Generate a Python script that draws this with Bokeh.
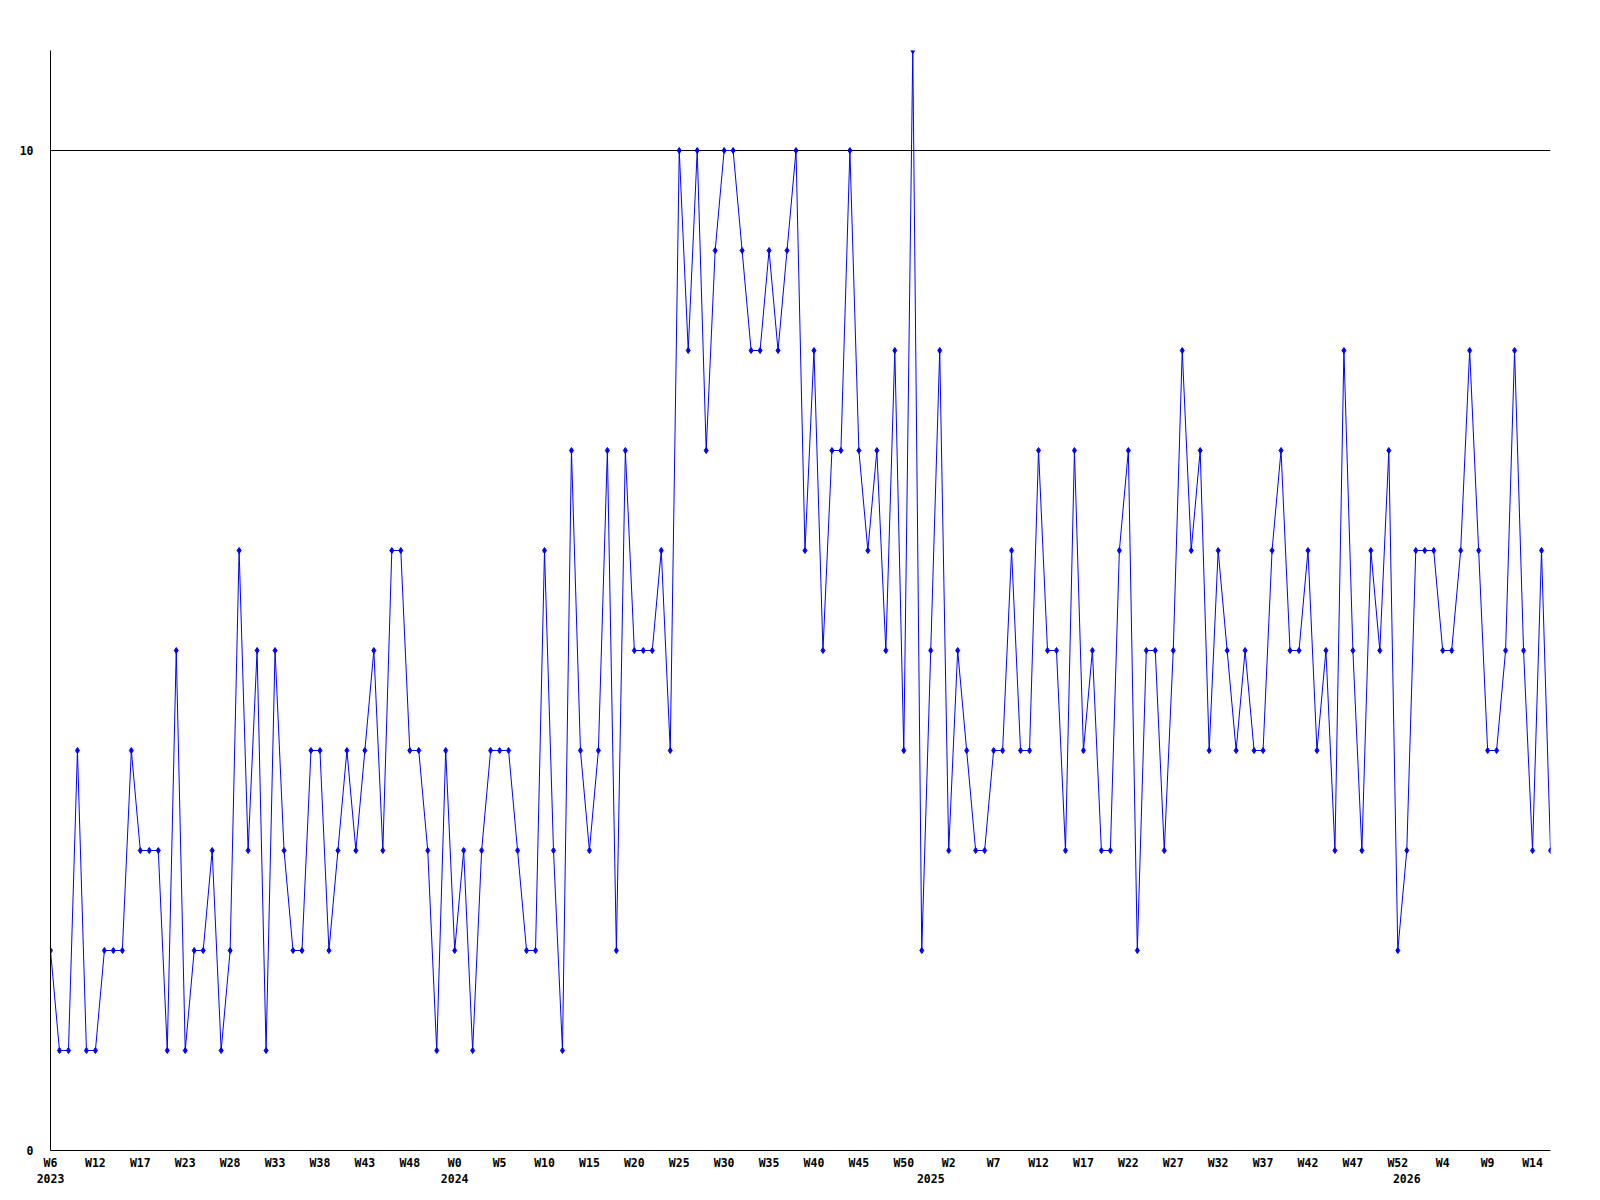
from bokeh.plotting import figure
from bokeh.models import Range1d, FixedTicker, LinearAxis, Grid
from bokeh.embed import file_html
from bokeh.resources import INLINE

# weekly values, one per point
values = [
    2, 1, 1, 4, 1, 1, 2, 2, 2, 4,
    3, 3, 3, 1, 5, 1, 2, 2, 3, 1,
    2, 6, 3, 5, 1, 5, 3, 2, 2, 4,
    4, 2, 3, 4, 3, 4, 5, 3, 6, 6,
    4, 4, 3, 1, 4, 2, 3, 1, 3, 4,
    4, 4, 3, 2, 2, 6, 3, 1, 7, 4,
    3, 4, 7, 2, 7, 5, 5, 5, 6, 4,
    10, 8, 10, 7, 9, 10, 10, 9, 8, 8,
    9, 8, 9, 10, 6, 8, 5, 7, 7, 10,
    7, 6, 7, 5, 8, 4, 11, 2, 5, 8,
    3, 5, 4, 3, 3, 4, 4, 6, 4, 4,
    7, 5, 5, 3, 7, 4, 5, 3, 3, 6,
    7, 2, 5, 5, 3, 5, 8, 6, 7, 4,
    6, 5, 4, 5, 4, 4, 6, 7, 5, 5,
    6, 4, 5, 3, 8, 5, 3, 6, 5, 7,
    2, 3, 6, 6, 6, 5, 5, 6, 8, 6,
    4, 4, 5, 8, 5, 3, 6, 3,
]

# week labels, shown on every 5th point
week_labels = [
    "W6", "W12", "W17", "W23", "W28", "W33", "W38", "W43", "W48",
    "W0", "W5", "W10", "W15", "W20", "W25", "W30", "W35", "W40", "W45", "W50",
    "W2", "W7", "W12", "W17", "W22", "W27", "W32", "W37", "W42", "W47", "W52",
    "W4", "W9", "W14",
]
label_step = 5

# year labels and the index of the first point of each year
year_labels = ["2023", "2024", "2025", "2026"]
year_first_point = [0, 45, 98, 151]

y_tick_values = [0, 10]
y_max = 11

x = list(range(len(values)))
week_ticks = [i * label_step for i in range(len(week_labels))]

FONT = "DejaVu Sans Mono"
FSIZE = "11.5px"
BLUE = "#0000ff"

p = figure(
    frame_width=1500, frame_height=1100,
    output_backend="svg", toolbar_location=None,
    x_range=Range1d(0, len(values) - 1), y_range=Range1d(0, y_max),
    x_axis_type=None, y_axis_type=None,
    min_border_left=50, min_border_top=50, min_border_right=34, min_border_bottom=10,
)
p.outline_line_color = None
p.background_fill_color = "white"
p.border_fill_color = "white"

def style_axis(ax, standoff):
    ax.axis_line_color = "black"
    ax.axis_line_width = 1
    ax.major_tick_line_color = None
    ax.minor_tick_line_color = None
    ax.major_tick_out = 0
    ax.major_tick_in = 0
    ax.minor_tick_out = 0
    ax.major_label_standoff = standoff
    ax.major_label_text_font = FONT
    ax.major_label_text_font_style = "bold"
    ax.major_label_text_font_size = FSIZE
    ax.major_label_text_color = "black"

yaxis = LinearAxis(ticker=FixedTicker(ticks=y_tick_values))
style_axis(yaxis, 17)
yaxis.major_label_overrides = {v: str(v) for v in y_tick_values}
p.add_layout(yaxis, "left")

xaxis = LinearAxis(ticker=FixedTicker(ticks=week_ticks))
style_axis(xaxis, 5)
xaxis.major_label_overrides = {t: lab for t, lab in zip(week_ticks, week_labels)}
p.add_layout(xaxis, "below")

yearaxis = LinearAxis(ticker=FixedTicker(ticks=year_first_point))
style_axis(yearaxis, 1)
yearaxis.axis_line_color = None
yearaxis.major_label_overrides = {t: lab for t, lab in zip(year_first_point, year_labels)}
p.add_layout(yearaxis, "below")

p.add_layout(Grid(dimension=1, ticker=FixedTicker(ticks=[v for v in y_tick_values if v > 0]),
                  grid_line_color="black", grid_line_width=1))

p.line(x=x, y=values, line_color=BLUE, line_width=1)
p.scatter(x=x, y=values, marker="diamond", size=6, fill_color=BLUE, line_color=BLUE)

open("out.html", "w").write(file_html(p, INLINE))
